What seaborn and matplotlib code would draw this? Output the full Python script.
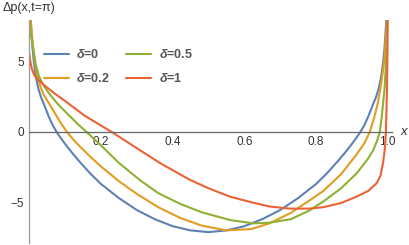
import matplotlib
matplotlib.use("Agg")
import numpy as np
import pandas as pd
import seaborn as sns
import matplotlib.pyplot as plt
from matplotlib.ticker import FixedLocator, FixedFormatter

# ---- data ----
labels = ["δ=0", "δ=0.2", "δ=0.5", "δ=1"]
colors = ["#5E81B5", "#E19C24", "#8FB032", "#EB6235"]

x_d0 = [0.0, 0.003, 0.005, 0.007, 0.009, 0.013, 0.018, 0.025, 0.033, 0.041, 0.055, 0.065, 0.075, 0.087,
        0.1, 0.12, 0.14, 0.17, 0.2, 0.25, 0.3, 0.35, 0.4, 0.45, 0.5,
        0.55, 0.6, 0.65, 0.7, 0.75, 0.8, 0.83, 0.86, 0.88, 0.9, 0.913, 0.925, 0.935, 0.945, 0.959,
        0.967, 0.975, 0.982, 0.987, 0.991, 0.993, 0.995, 0.997, 1.0]
y_d0 = [11.0, 8.4, 7.5, 6.7, 5.95, 4.9, 3.96, 3.1, 2.45, 1.97, 1.05, 0.5, 0.05, -0.4,
        -0.85, -1.5, -2.1, -2.95, -3.7, -4.7, -5.55, -6.2, -6.7, -7.0, -7.12,
        -7.0, -6.7, -6.2, -5.55, -4.7, -3.7, -2.95, -2.1, -1.5, -0.85, -0.4, 0.05, 0.5, 1.05, 1.97,
        2.45, 3.1, 3.96, 4.9, 5.95, 6.7, 7.5, 8.4, 11.0]

x_d02 = [0.0, 0.004, 0.007, 0.011, 0.016, 0.023, 0.03, 0.04, 0.057, 0.07, 0.085, 0.105, 0.125, 0.14,
         0.17, 0.2, 0.25, 0.3, 0.36, 0.42, 0.48, 0.55, 0.62, 0.67, 0.73, 0.78, 0.82, 0.87, 0.913,
         0.935, 0.95, 0.962, 0.972, 0.979, 0.985, 0.99, 0.993, 0.998, 1.0]
y_d02 = [11.0, 8.0, 7.0, 5.95, 4.85, 3.96, 3.3, 2.65, 1.95, 1.4, 0.75, 0.0, -0.6, -1.0,
         -1.75, -2.45, -3.5, -4.4, -5.35, -6.1, -6.65, -7.0, -6.9, -6.5, -5.75, -4.9, -4.2, -3.0, -1.6,
         -0.8, 0.0, 1.0, 2.0, 3.0, 4.0, 5.0, 6.0, 8.0, 11.0]

x_d05 = [0.0, 0.004, 0.011, 0.018, 0.027, 0.04, 0.055, 0.079, 0.11, 0.14, 0.16, 0.2, 0.25, 0.31, 0.36,
         0.42, 0.48, 0.56, 0.625, 0.67, 0.73, 0.78, 0.82, 0.87, 0.913, 0.945, 0.96, 0.97, 0.978,
         0.983, 0.987, 0.991, 0.994, 0.997, 1.0]
y_d05 = [8.3, 7.0, 5.95, 4.8, 3.96, 3.3, 2.75, 2.0, 1.2, 0.45, 0.0, -0.95, -2.2, -3.45, -4.35,
         -5.1, -5.7, -6.26, -6.5, -6.45, -6.2, -5.6, -4.95, -4.0, -2.95, -1.9, -1.28, -0.65, 0.0,
         1.0, 2.0, 3.0, 4.3, 6.0, 9.0]

x_d1 = [0.0, 0.003, 0.007, 0.012, 0.016, 0.025, 0.043, 0.07, 0.1, 0.155, 0.23, 0.3, 0.364, 0.448, 0.5,
        0.56, 0.62, 0.671, 0.727, 0.78, 0.82, 0.87, 0.913, 0.945, 0.969, 0.98, 0.987, 0.992, 0.995,
        0.998, 0.9995, 1.0]
y_d1 = [5.6, 5.0, 4.5, 4.15, 3.96, 3.7, 3.3, 2.75, 2.2, 1.15, 0.0, -1.15, -2.2, -3.4, -4.0,
        -4.6, -5.0, -5.3, -5.45, -5.45, -5.35, -5.05, -4.6, -4.2, -3.65, -3.1, -2.2, -1.2, 0.0,
        3.0, 6.0, 9.0]

x_ticks = [0.2, 0.4, 0.6, 0.8, 1.0]
x_ticklabels = ["0.2", "0.4", "0.6", "0.8", "1.0"]
y_ticks = [-5, 0, 5]
y_ticklabels = ["\u22125", "0", "5"]

# ---- build table ----
frames = []
for lab, xs, ys in zip(labels, [x_d0, x_d02, x_d05, x_d1], [y_d0, y_d02, y_d05, y_d1]):
    frames.append(pd.DataFrame({"x": xs, "y": ys, "delta": lab}))
df = pd.concat(frames, ignore_index=True)

sns.set_style("white")
plt.rcParams["font.family"] = ["Liberation Sans", "DejaVu Sans"]
plt.rcParams["mathtext.fontset"] = "custom"
plt.rcParams["mathtext.it"] = "Liberation Sans:italic:bold"
plt.rcParams["mathtext.rm"] = "Liberation Sans:bold"

W, H = 409, 245
fig = plt.figure(figsize=(W / 100, H / 100), dpi=100)
x0px, x1px, xendpx = 29.3, 387.7, 392.0
ytop, ybot, y0px = 20.0, 243.0, 132.0
ppu_y = 14.06
ax = fig.add_axes([x0px / W, 1 - ybot / H, (xendpx - x0px) / W, (ybot - ytop) / H])

sns.lineplot(data=df, x="x", y="y", hue="delta", palette=colors, hue_order=labels,
             estimator=None, sort=False, linewidth=1.5, ax=ax)

ax.set_xlim(0, (xendpx - x0px) / (x1px - x0px))
ax.set_ylim(-(ybot - y0px) / ppu_y, (y0px - ytop) / ppu_y)

for s in ["top", "right"]:
    ax.spines[s].set_visible(False)
ax.spines["bottom"].set_position(("data", 0))
ax.spines["left"].set_position(("data", 0))
ax.spines["bottom"].set_color("#666666")
ax.spines["left"].set_color("#9a9a9a")
ax.spines["bottom"].set_linewidth(0.9)
ax.spines["left"].set_linewidth(0.9)

ax.xaxis.set_major_locator(FixedLocator(x_ticks))
ax.xaxis.set_major_formatter(FixedFormatter(x_ticklabels))
ax.xaxis.set_minor_locator(FixedLocator([i * 0.05 for i in range(1, 21) if i % 4 != 0]))
ax.yaxis.set_major_locator(FixedLocator(y_ticks))
ax.yaxis.set_major_formatter(FixedFormatter(y_ticklabels))
ax.yaxis.set_minor_locator(FixedLocator([v for v in range(-7, 8) if v % 5 != 0]))

ax.tick_params(axis="both", which="major", direction="in", length=4, width=0.8,
               color="#777777", labelsize=8.5, labelcolor="#333333")
ax.tick_params(axis="both", which="minor", direction="in", length=2.5, width=0.7, color="#888888")
ax.tick_params(axis="x", which="major", pad=3)
ax.tick_params(axis="y", which="major", pad=4)
ax.set_xlabel("")
ax.set_ylabel("")

fig.text(x0px / W, 1 - 8 / H, "Δp(x,t=π)", ha="center", va="center", fontsize=9, color="#333333")
fig.text(404 / W, 1 - 132 / H, "x", ha="center", va="center", fontsize=9.5, color="#333333",
         style="italic")

handles, _ = ax.get_legend_handles_labels()
leg_labels = [r"$\mathit{δ}$=0", r"$\mathit{δ}$=0.2", r"$\mathit{δ}$=0.5", r"$\mathit{δ}$=1"]
ax.legend(handles, leg_labels, ncol=2, loc="upper left", bbox_to_anchor=(44 / W, 1 - 48 / H),
          bbox_transform=fig.transFigure, frameon=False, borderpad=0, borderaxespad=0,
          handlelength=2.0, handletextpad=0.6, columnspacing=1.3, labelspacing=0.9,
          prop={"size": 9, "weight": "bold"}, labelcolor="#555555")

fig.savefig("out.png", dpi=100)
